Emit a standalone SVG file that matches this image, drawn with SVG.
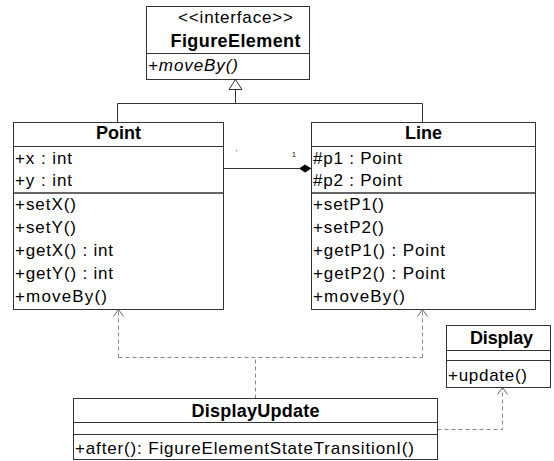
<svg xmlns="http://www.w3.org/2000/svg" width="554" height="461" viewBox="0 0 554 461">
<defs>
<style>
.box{fill:#fff;stroke:#333;stroke-width:1}
.sep{stroke:#333;stroke-width:1}
.sep2{stroke:#666;stroke-width:2}
.t{font-family:"Liberation Sans",Arial,sans-serif;font-size:17px;fill:#000}
.n{font-family:"Liberation Sans",Arial,sans-serif;font-size:18px;font-weight:bold;fill:#000;text-anchor:middle}
.it{font-style:italic}
.solid{fill:none;stroke:#333;stroke-width:1}
.dash{fill:none;stroke:#888;stroke-width:1;stroke-dasharray:4 3}
.small{font-family:"Liberation Sans",Arial,sans-serif;font-size:7px;fill:#000}
</style>
<marker id="open" viewBox="0 0 12 12" refX="10" refY="6" markerWidth="12" markerHeight="12" markerUnits="userSpaceOnUse" orient="auto">
<path d="M3,1 L10,6 L3,11" fill="none" stroke="#666" stroke-width="1"/>
</marker>
</defs>

<g id="connectors">
<polygon points="235.5,79.5 229,89.5 242,89.5" fill="#fff" stroke="#333"/>
<path class="solid" d="M235.5,89.5 V103.5 M117.5,103.5 H422.5 M117.5,103.5 V122.5 M422.5,103.5 V122.5"/>
<path class="solid" d="M223.5,168.5 H299"/>
<polygon points="311.5,168.5 305,164.5 299,168.5 305,172.5" fill="#000"/>
<text class="small" x="236" y="155">'</text>
<text class="small" x="292" y="157">1</text>
<path class="dash" d="M255.5,398.5 V357.5 M118.5,357.5 H422.5"/>
<path class="dash" d="M118.5,357.5 V309.5" marker-end="url(#open)"/>
<path class="dash" d="M422.5,357.5 V309.5" marker-end="url(#open)"/>
<path class="dash" d="M437.5,429.5 H502.5 V387.5" marker-end="url(#open)"/>
</g>

<g id="FigureElement">
<rect class="box" x="146.5" y="6.5" width="163" height="73"/>
<line class="sep" x1="146.5" y1="53.5" x2="309.5" y2="53.5"/>
<text class="t" x="235.5" y="23" text-anchor="middle" textLength="115" lengthAdjust="spacing">&lt;&lt;interface&gt;&gt;</text>
<text class="n" x="235.5" y="47" textLength="130" lengthAdjust="spacing">FigureElement</text>
<text class="t it" x="148" y="71" textLength="90" lengthAdjust="spacing">+moveBy()</text>
</g>

<g id="Point">
<rect class="box" x="13.5" y="122.5" width="210" height="187"/>
<line class="sep" x1="13.5" y1="146.5" x2="223.5" y2="146.5"/>
<line class="sep2" x1="14" y1="193" x2="223" y2="193"/>
<text class="n" x="118.5" y="139" textLength="45" lengthAdjust="spacing">Point</text>
<text class="t" x="15" y="164" textLength="57" lengthAdjust="spacing">+x : int</text>
<text class="t" x="15" y="186" textLength="57" lengthAdjust="spacing">+y : int</text>
<text class="t" x="15" y="210" textLength="61" lengthAdjust="spacing">+setX()</text>
<text class="t" x="15" y="233" textLength="61" lengthAdjust="spacing">+setY()</text>
<text class="t" x="15" y="256" textLength="98" lengthAdjust="spacing">+getX() : int</text>
<text class="t" x="15" y="279" textLength="98" lengthAdjust="spacing">+getY() : int</text>
<text class="t" x="15" y="302" textLength="92" lengthAdjust="spacing">+moveBy()</text>
</g>

<g id="Line">
<rect class="box" x="311.5" y="122.5" width="224" height="187"/>
<line class="sep" x1="311.5" y1="146.5" x2="535.5" y2="146.5"/>
<line class="sep2" x1="312" y1="193" x2="535" y2="193"/>
<text class="n" x="423.5" y="139" textLength="37" lengthAdjust="spacing">Line</text>
<text class="t" x="313" y="164" textLength="89" lengthAdjust="spacing">#p1 : Point</text>
<text class="t" x="313" y="186" textLength="89" lengthAdjust="spacing">#p2 : Point</text>
<text class="t" x="313" y="210" textLength="71" lengthAdjust="spacing">+setP1()</text>
<text class="t" x="313" y="233" textLength="71" lengthAdjust="spacing">+setP2()</text>
<text class="t" x="313" y="256" textLength="132" lengthAdjust="spacing">+getP1() : Point</text>
<text class="t" x="313" y="279" textLength="132" lengthAdjust="spacing">+getP2() : Point</text>
<text class="t" x="313" y="302" textLength="92" lengthAdjust="spacing">+moveBy()</text>
</g>

<g id="Display">
<rect class="box" x="446.5" y="325.5" width="104" height="62"/>
<line class="sep" x1="446.5" y1="350.5" x2="550.5" y2="350.5"/>
<line class="sep" x1="446.5" y1="360.5" x2="550.5" y2="360.5"/>
<text class="n" x="501.5" y="344" textLength="63" lengthAdjust="spacing">Display</text>
<text class="t" x="448" y="381" textLength="79" lengthAdjust="spacing">+update()</text>
</g>

<g id="DisplayUpdate">
<rect class="box" x="73.5" y="398.5" width="364" height="61"/>
<line class="sep" x1="73.5" y1="422.5" x2="437.5" y2="422.5"/>
<line class="sep" x1="73.5" y1="434.5" x2="437.5" y2="434.5"/>
<text class="n" x="255.5" y="417" textLength="128" lengthAdjust="spacing">DisplayUpdate</text>
<text class="t" x="75" y="454" textLength="339" lengthAdjust="spacing">+after(): FigureElementStateTransitionI()</text>
</g>
</svg>
